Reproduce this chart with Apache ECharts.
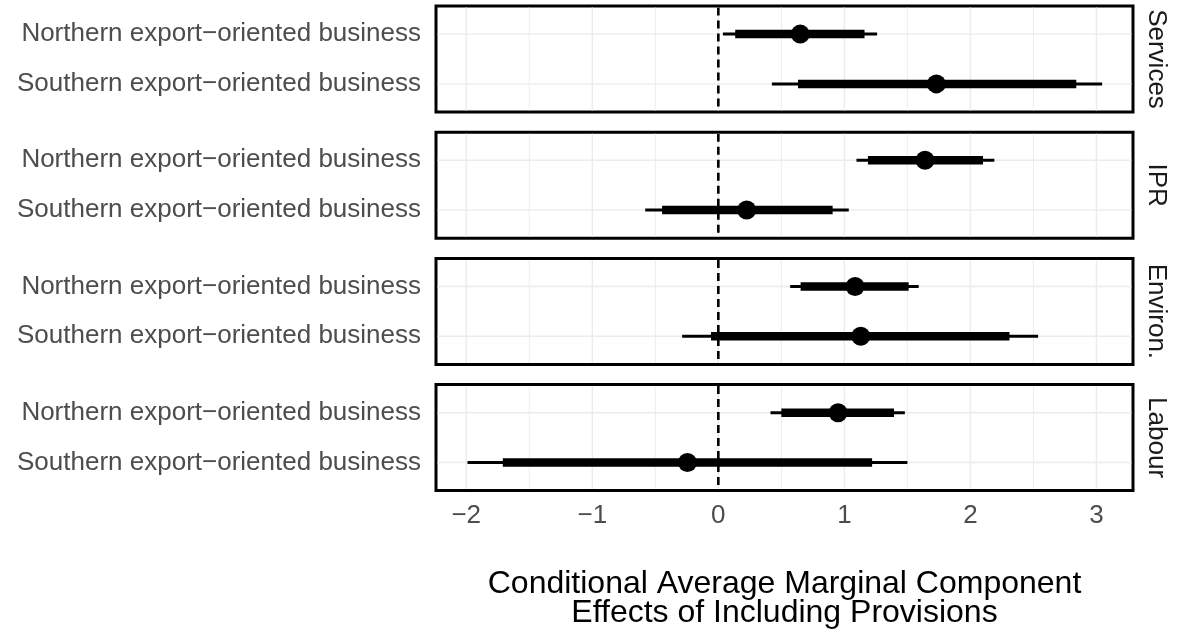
<!DOCTYPE html>
<html>
<head>
<meta charset="utf-8">
<script src="https://cdn.jsdelivr.net/npm/echarts@6/dist/echarts.min.js"></script>
<style>
  html, body { margin: 0; padding: 0; background: #fff; }
  #chart { width: 1177px; height: 639px; }
</style>
</head>
<body>
<div id="chart"></div>
<script>
// Facet panels, top to bottom
const panels = ['Services', 'IPR', 'Environ.', 'Labour'];
// Row labels, indexed by their y position (0 = lower row, 1 = upper row)
const rowLabels = ['Southern export−oriented business', 'Northern export−oriented business'];

// Northern export-oriented business, one value per panel
const northEst     = [0.65, 1.64, 1.085, 0.95];
const northInnerLo = [0.134, 1.187, 0.653, 0.50];
const northInnerHi = [1.16, 2.10, 1.51, 1.394];
const northOuterLo = [0.036, 1.096, 0.57, 0.414];
const northOuterHi = [1.26, 2.19, 1.59, 1.48];

// Southern export-oriented business, one value per panel
const southEst     = [1.73, 0.225, 1.13, -0.245];
const southInnerLo = [0.632, -0.446, -0.058, -1.71];
const southInnerHi = [2.84, 0.907, 2.31, 1.22];
const southOuterLo = [0.425, -0.58, -0.287, -1.99];
const southOuterHi = [3.045, 1.035, 2.537, 1.50];

// Axis ticks and reference lines
const xTicks = [-2, -1, 0, 1, 2, 3];
const xMinor = [-1.5, -0.5, 0.5, 1.5, 2.5];
const yRows = [0, 1];
const zeroLine = [0];

const xMin = -2.24, xMax = 3.29;
const yMin = -0.565, yMax = 1.565;

const FONT = '"Liberation Sans", Arial, Helvetica, sans-serif';
const minusify = v => String(v).replace('-', '\u2212');

const chart = echarts.init(document.getElementById('chart'), null, { renderer: 'canvas' });

const grids = [], xAxes = [], yAxes = [], series = [];

// Vertical grid lines spanning the panel height
function vLine(width, color, dash) {
  return function (params, api) {
    const cs = params.coordSys;
    const x = api.coord([api.value(0), 0])[0];
    return {
      type: 'line',
      shape: { x1: x, y1: cs.y + 1.5, x2: x, y2: cs.y + cs.height - 1.5 },
      style: { stroke: color, lineWidth: width, lineDash: dash || null }
    };
  };
}
// Horizontal grid lines spanning the panel width
function hLine(params, api) {
  const cs = params.coordSys;
  const y = api.coord([0, api.value(0)])[1];
  return {
    type: 'line',
    shape: { x1: cs.x + 1.5, y1: y, x2: cs.x + cs.width - 1.5, y2: y },
    style: { stroke: '#ebebeb', lineWidth: 1.4 }
  };
}
// Estimate with inner and outer intervals
function interval(params, api) {
  const y = api.value(0);
  const o1 = api.coord([api.value(1), y]);
  const o2 = api.coord([api.value(2), y]);
  const i1 = api.coord([api.value(3), y]);
  const i2 = api.coord([api.value(4), y]);
  const p = api.coord([api.value(5), y]);
  return {
    type: 'group',
    children: [
      { type: 'line', shape: { x1: o1[0], y1: o1[1], x2: o2[0], y2: o2[1] }, style: { stroke: '#000', lineWidth: 3 } },
      { type: 'line', shape: { x1: i1[0], y1: i1[1], x2: i2[0], y2: i2[1] }, style: { stroke: '#000', lineWidth: 8.5 } },
      { type: 'circle', shape: { cx: p[0], cy: p[1], r: 9.5 }, style: { fill: '#000' } }
    ]
  };
}

panels.forEach((name, i) => {
  const top = 6 + i * 126.2;
  grids.push({
    left: 436, right: 42.3, top: top, height: 106,
    show: true, borderColor: '#000', borderWidth: 3, backgroundColor: 'transparent'
  });
  const last = i === panels.length - 1;
  xAxes.push({
    gridIndex: i, type: 'value', min: xMin, max: xMax,
    axisLine: { show: false }, axisTick: { show: false }, splitLine: { show: false },
    axisLabel: last ? {
      customValues: xTicks, formatter: minusify,
      fontSize: 26, color: '#4d4d4d', fontFamily: FONT, margin: 12
    } : { show: false },
    name: last ? 'Conditional Average Marginal Component\nEffects of Including Provisions' : '',
    nameLocation: 'middle', nameGap: 79,
    nameTextStyle: { fontSize: 32, lineHeight: 29, color: '#000', fontFamily: FONT }
  });
  yAxes.push({
    gridIndex: i, type: 'value', min: yMin, max: yMax,
    axisLine: { show: false }, axisTick: { show: false }, splitLine: { show: false },
    axisLabel: {
      customValues: yRows, formatter: v => rowLabels[Math.round(v)],
      fontSize: 26, color: '#4d4d4d', fontFamily: FONT, margin: 15
    }
  });
  yAxes.push({
    gridIndex: i, type: 'value', position: 'right', min: yMin, max: yMax,
    axisLine: { show: false }, axisTick: { show: false }, splitLine: { show: false },
    axisLabel: { show: false },
    name: name, nameLocation: 'middle', nameRotate: -90, nameGap: 10,
    nameTextStyle: { fontSize: 26, color: '#1a1a1a', fontFamily: FONT }
  });

  const xi = i, yi = 2 * i;
  series.push({
    type: 'custom', xAxisIndex: xi, yAxisIndex: yi, silent: true, z: 1,
    data: xMinor.map(v => [v]), renderItem: vLine(0.9, '#ebebeb')
  });
  series.push({
    type: 'custom', xAxisIndex: xi, yAxisIndex: yi, silent: true, z: 1,
    data: xTicks.map(v => [v]), renderItem: vLine(1.4, '#ebebeb')
  });
  series.push({
    type: 'custom', xAxisIndex: xi, yAxisIndex: yi, silent: true, z: 1,
    data: yRows.map(v => [v]), renderItem: hLine
  });
  series.push({
    type: 'custom', xAxisIndex: xi, yAxisIndex: yi, silent: true, z: 2,
    data: zeroLine.map(v => [v]), renderItem: vLine(2.6, '#000', [8, 5])
  });
  series.push({
    type: 'custom', xAxisIndex: xi, yAxisIndex: yi, silent: true, z: 3,
    encode: { x: [1, 2, 3, 4, 5], y: 0 },
    data: [
      [1, northOuterLo[i], northOuterHi[i], northInnerLo[i], northInnerHi[i], northEst[i]],
      [0, southOuterLo[i], southOuterHi[i], southInnerLo[i], southInnerHi[i], southEst[i]]
    ],
    renderItem: interval
  });
});

chart.setOption({
  animation: false,
  backgroundColor: '#fff',
  textStyle: { fontFamily: FONT },
  grid: grids, xAxis: xAxes, yAxis: yAxes, series: series
});
</script>
</body>
</html>
